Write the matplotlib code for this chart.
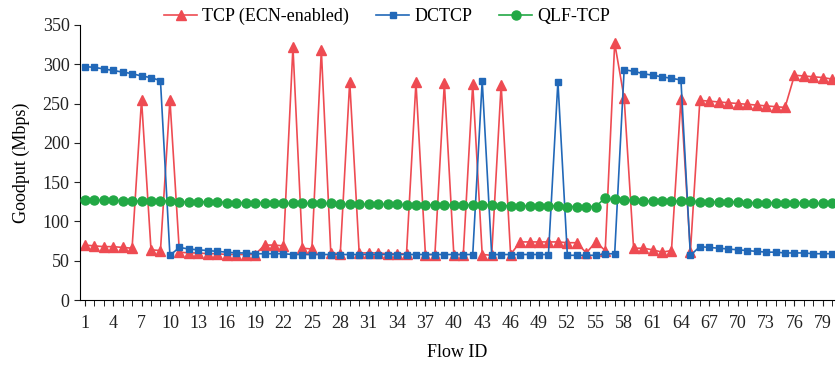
import matplotlib.pyplot as plt

flows = list(range(1, 81))

tcp_ecn = [70, 69, 68, 68, 67, 66, 255, 64, 63, 255,
           61, 60, 60, 59, 59, 58, 58, 58, 58, 70,
           70, 69, 322, 66, 65, 318, 60, 59, 278, 60,
           60, 60, 59, 59, 59, 277, 58, 58, 276, 58,
           58, 275, 58, 57, 274, 58, 74, 74, 74, 74,
           74, 73, 73, 60, 74, 63, 327, 257, 66, 66,
           64, 61, 63, 256, 61, 254, 253, 252, 251, 250,
           249, 248, 247, 246, 245, 286, 285, 284, 283, 281]

dctcp = [297, 296, 294, 292, 290, 288, 285, 283, 279, 57,
         67, 65, 64, 63, 62, 61, 60, 60, 59, 59,
         59, 59, 58, 58, 58, 58, 58, 58, 58, 58,
         58, 58, 58, 58, 58, 58, 58, 58, 58, 58,
         58, 58, 279, 58, 58, 58, 58, 58, 58, 58,
         278, 57, 57, 57, 57, 59, 59, 293, 291, 288,
         286, 284, 282, 280, 57, 68, 67, 66, 65, 64,
         63, 62, 61, 61, 60, 60, 60, 59, 59, 59]

qlf_tcp = [127, 127, 127, 127, 126, 126, 126, 126, 126, 126,
           125, 125, 125, 125, 125, 124, 124, 124, 124, 124,
           124, 123, 123, 123, 123, 123, 123, 122, 122, 122,
           122, 122, 122, 122, 121, 121, 121, 121, 121, 121,
           121, 121, 121, 121, 120, 120, 120, 120, 120, 120,
           120, 119, 119, 119, 119, 130, 128, 127, 127, 126,
           126, 126, 126, 126, 126, 125, 125, 125, 125, 125,
           124, 124, 124, 124, 124, 124, 124, 123, 123, 123]

xtick_labels = list(range(1, 80, 3))

plt.rcParams['font.family'] = ['Liberation Serif', 'DejaVu Serif']

fig = plt.figure(figsize=(8.38, 3.66), dpi=100)
ax = fig.add_axes([0.0955, 0.18, 0.9, 0.752])

ax.plot(flows, tcp_ecn, color='#EE4B52', lw=1.2, marker='^', ms=6.5,
        label='TCP (ECN-enabled)', zorder=2)
ax.plot(flows, dctcp, color='#2168B8', lw=1.2, marker='s', ms=5,
        label='DCTCP', zorder=3)
ax.plot(flows, qlf_tcp, color='#22A845', lw=1.2, marker='o', ms=6.5,
        label='QLF-TCP', zorder=4)

ax.set_xlim(0.5, 80.2)
ax.set_ylim(0, 350)
ax.set_yticks(range(0, 351, 50))
ax.set_xticks(xtick_labels)
ax.set_xticks(flows, minor=True)
ax.tick_params(axis='both', labelsize=13, direction='out', length=4, colors='#222222')
ax.tick_params(axis='x', which='major', pad=7)
ax.tick_params(axis='x', which='minor', length=4)
ax.spines['top'].set_visible(False)
ax.spines['right'].set_visible(False)
ax.set_xlabel('Flow ID', fontsize=13, labelpad=8)
ax.set_ylabel('Goodput (Mbps)', fontsize=13, labelpad=9)

ax.legend(loc='lower left', bbox_to_anchor=(0.1, 0.965), ncol=3, frameon=False,
          fontsize=13, handlelength=1.8, columnspacing=1.5, handletextpad=0.3,
          borderpad=0)

fig.savefig('out.png', dpi=100)
